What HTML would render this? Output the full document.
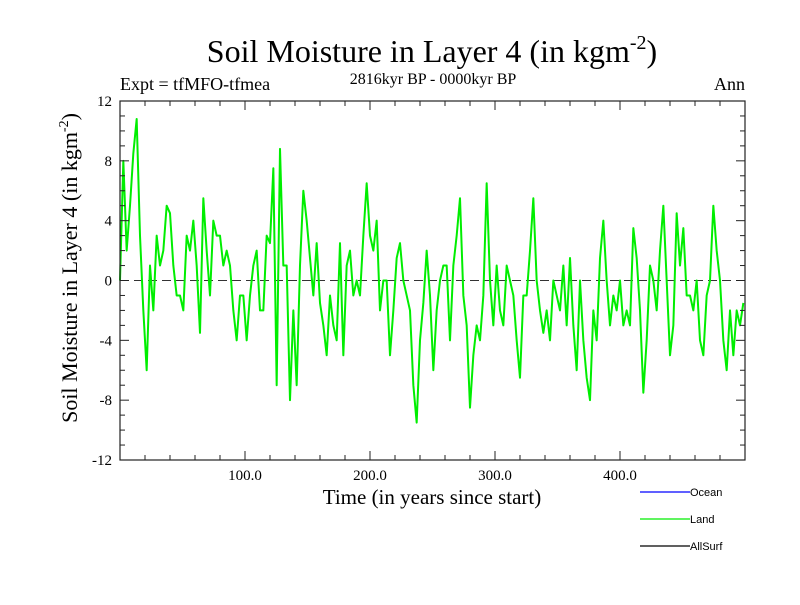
<!DOCTYPE html>
<html><head><meta charset="utf-8"><style>
body{margin:0;background:#fff;}
svg text{font-family:"Liberation Serif",serif;}
</style></head><body>
<svg id="chart" width="800" height="600" viewBox="0 0 800 600" xmlns="http://www.w3.org/2000/svg">
<rect width="800" height="600" fill="#fff"/>
<text x="432" y="62" font-size="32" text-anchor="middle">Soil Moisture in Layer 4 (in kgm<tspan dy="-13" font-size="20">-2</tspan><tspan dy="13">)</tspan></text>
<text x="120" y="90" font-size="18">Expt = tfMFO-tfmea</text>
<text x="433" y="84" font-size="16" text-anchor="middle">2816kyr BP - 0000kyr BP</text>
<text x="745" y="90" font-size="18" text-anchor="end">Ann</text>
<text transform="translate(77,268) rotate(-90)" font-size="22" text-anchor="middle">Soil Moisture in Layer 4 (in kgm<tspan dy="-9" font-size="14">-2</tspan><tspan dy="9">)</tspan></text>
<text x="432" y="504" font-size="21" text-anchor="middle">Time (in years since start)</text>
<g id="plot"></g>
<g>
<line x1="640" y1="492" x2="690" y2="492" stroke="#0000ff" stroke-width="1.2"/>
<text x="690" y="496" font-size="11" style="font-family:'Liberation Sans',sans-serif">Ocean</text>
<line x1="640" y1="519" x2="690" y2="519" stroke="#00ee00" stroke-width="1.2"/>
<text x="690" y="523" font-size="11" style="font-family:'Liberation Sans',sans-serif">Land</text>
<line x1="640" y1="546" x2="690" y2="546" stroke="#000" stroke-width="1.2"/>
<text x="690" y="550" font-size="11" style="font-family:'Liberation Sans',sans-serif">AllSurf</text>
</g>
</svg>
<script>
const timeStep = 2.6667;
const yTickValues = [-12,-8,-4,0,4,8,12];
const yTickLabels = ["-12","-8","-4","0","4","8","12"];
const xTickValues = [100,200,300,400];
const xTickLabels = ["100.0","200.0","300.0","400.0"];
const landValues = [
0,8,2,5,8.5,10.8,3,-2,-6,1,-2,3,1,2,5,4.5,1,-1,-1,-2,3,2,4,1,-3.5,5.5,2,-1,4,3,3,1,2,1,-2,-4,-1,-1,-4,-1,1,2,-2,-2,3,2.5,7.5,-7,
8.8,1,1,-8,-2,-7,1,6,4,1.5,-1,2.5,-1.5,-3,-5,-1,-3,-4,2.5,-5,1,2,-1,0,-1,3,6.5,3,2,4,-2,0,0,-5,-2,1.5,2.5,0,-1,-2,-7,-9.5,-4,-1.5,2,-1,
-6,-2,0,1,1,-4,1,3,5.5,-1,-3,-8.5,-5,-3,-4,-1,6.5,0,-3,1,-2,-3,1,0,-1,-4,-6.5,-1,-1,2,5.5,0,-2,-3.5,-2,-4,0,-1,-2,1,-3,1.5,-3,-6,0,-4,
-6.5,-8,-2,-4,1.5,4,0,-3,-1,-2,0,-3,-2,-3,3.5,1.5,-2,-7.5,-4,1,0,-2,2,5,0,-5,-3,4.5,1,3.5,-1,-1,-2,0,-4,-5,-1,0,5,2,0,-4,-6,-2,-5,-2,-3,-1.5
];
const X0=120,X1=745,Y0=460,Y1=101;
const xs=t=>X0+(t/500)*(X1-X0);
const ys=v=>Y0-((v+12)/24)*(Y0-Y1);
const NS="http://www.w3.org/2000/svg";
const g=document.getElementById('plot');
function mk(tag,attrs){const e=document.createElementNS(NS,tag);for(const k in attrs)e.setAttribute(k,attrs[k]);g.appendChild(e);return e;}
const z=mk('line',{x1:X0,x2:X1,y1:ys(0),y2:ys(0),stroke:'#333','stroke-width':1,'stroke-dasharray':'9,5'});


let d='';
landValues.forEach((v,i)=>{d+=(i?'L':'M')+xs(i*timeStep).toFixed(2)+','+ys(v).toFixed(2);});
const p=mk('path',{d:d,fill:'none',stroke:'#00ee00','stroke-width':2,'stroke-linejoin':'round'});


const f=mk('rect',{x:X0,y:Y1,width:X1-X0,height:Y0-Y1,fill:'none',stroke:'#222','stroke-width':1.2});


for(let v=-12;v<=12;v++){
  const major=v%4===0, L=major?9:5;
  const a=mk('line',{x1:X0,x2:X0+L,y1:ys(v),y2:ys(v),stroke:'#222'});
  
  
  const b=mk('line',{x1:X1,x2:X1-L,y1:ys(v),y2:ys(v),stroke:'#222'});
  
  
}
yTickValues.forEach((v,i)=>{
  const t=mk('text',{x:X0-8,y:ys(v)+5,'font-size':15,'text-anchor':'end'});
  t.textContent=yTickLabels[i];
  
  
});
for(let t=20;t<500;t+=20){
  const major=t%100===0, L=major?9:5;
  const a=mk('line',{x1:xs(t),x2:xs(t),y1:Y0,y2:Y0-L,stroke:'#222'});
  
  
  const b=mk('line',{x1:xs(t),x2:xs(t),y1:Y1,y2:Y1+L,stroke:'#222'});
  
  
}
xTickValues.forEach((v,i)=>{
  const t=mk('text',{x:xs(v),y:Y0+20,'font-size':15,'text-anchor':'middle'});
  t.textContent=xTickLabels[i];
  
  
});
</script>
</body></html>
